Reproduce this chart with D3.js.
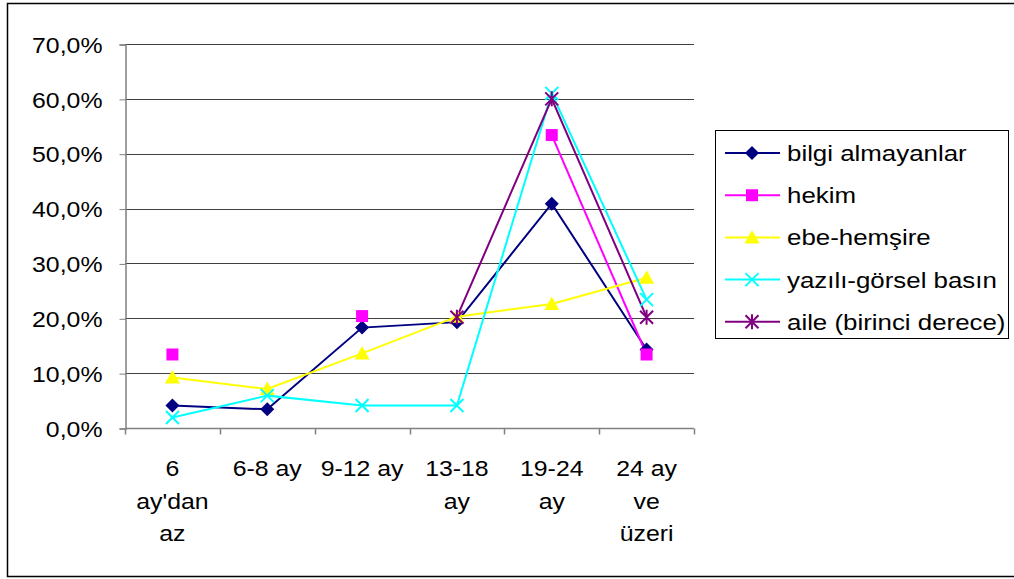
<!DOCTYPE html>
<html><head><meta charset="utf-8">
<script src="https://cdn.jsdelivr.net/npm/d3@7"></script>
<style>body{margin:0;background:#fff}svg{display:block}text{font-family:"Liberation Sans",Arial,sans-serif;fill:#000}</style>
</head><body><svg id="c" width="1014" height="579"></svg>
<script>
const categories = ["6 ay'dan az","6-8 ay","9-12 ay","13-18 ay","19-24 ay","24 ay ve üzeri"];
const categoryLines = [["6","ay'dan","az"],["6-8 ay"],["9-12 ay"],["13-18","ay"],["19-24","ay"],["24 ay","ve","üzeri"]];
const seriesNames = ["bilgi almayanlar","hekim","ebe-hemşire","yazılı-görsel basın","aile (birinci derece)"];
const bilgiAlmayanlar = [4.1,3.4,18.3,19.3,40.9,14.3];
const hekim = [13.4,null,20.4,null,53.4,13.4];
const ebeHemsire = [9.2,7.1,13.6,20.3,22.6,27.4];
const yaziliGorsel = [1.9,5.9,4.1,4.1,61.0,23.4];
const aile = [null,null,null,20.2,60.0,20.2];
const yTicks = [0,10,20,30,40,50,60,70];

const seriesValues = [bilgiAlmayanlar,hekim,ebeHemsire,yaziliGorsel,aile];
const colors = ["#000080","#FF00FF","#FFFF00","#00FFFF","#800080"];
const markers = ["diamond","square","triangle","x","star"];

const svg = d3.select("#c");
const SX = 1.13;
const L=125,R=694,T=44,B=428;
svg.append("rect").attr("x",7.5).attr("y",3.5).attr("width",1015).attr("height",573).attr("fill","#fff").attr("stroke","#000").attr("stroke-width",1.5);

const x = d3.scaleBand().domain(categories).range([L,R]).padding(0);
const y = d3.scaleLinear().domain([0,70]).range([B,T]);

// gridlines
svg.append("g").selectAll("line").data(yTicks.filter(d=>d>0)).join("line")
  .attr("x1",L).attr("x2",R).attr("y1",d=>Math.round(y(d))+0.5).attr("y2",d=>Math.round(y(d))+0.5)
  .attr("stroke","#404040").attr("stroke-width",1);

// y axis
const yAxis = d3.axisLeft(y).tickValues(yTicks).tickSize(6).tickFormat(d=>d3.format(".1f")(d).replace(".",",")+"%");
const gy = svg.append("g").attr("transform",`translate(${L+0.5},0.5)`).call(yAxis);
gy.select(".domain").attr("stroke","#808080").attr("stroke-width",1.5);
gy.selectAll(".tick line").attr("stroke","#808080");
gy.selectAll(".tick text").attr("font-size",22).attr("x",0).attr("dy","0.35em")
  .attr("transform","translate(-23,0) scale("+SX+",1)").attr("text-anchor","end").style("font-family",'"Liberation Sans",Arial,sans-serif');

// x axis
const gx = svg.append("g").attr("transform",`translate(0,${B+0.5})`);
gx.append("line").attr("x1",L).attr("x2",R).attr("stroke","#808080").attr("stroke-width",1.5);
const edges = categories.map(c=>x(c)).concat([R]);
gx.selectAll(".tk").data(edges).join("line").attr("class","tk")
  .attr("x1",d=>Math.round(d)+0.5).attr("x2",d=>Math.round(d)+0.5).attr("y1",0).attr("y2",6).attr("stroke","#808080").attr("stroke-width",1.5);
categories.forEach((c,i)=>{
  const cx = x(c)+x.bandwidth()/2;
  categoryLines[i].forEach((ln,j)=>{
    svg.append("text").attr("transform",`translate(${cx},${476+j*32.5}) scale(${SX},1)`)
      .attr("text-anchor","middle").attr("font-size",22).text(ln);
  });
});

function drawMarker(g,type,color,cx,cy){
  if(type==="diamond"){
    const r=7;
    g.append("path").attr("d",`M${cx},${cy-r}L${cx+r},${cy}L${cx},${cy+r}L${cx-r},${cy}Z`).attr("fill",color);
  } else if(type==="square"){
    const r=6;
    g.append("rect").attr("x",cx-r).attr("y",cy-r).attr("width",2*r).attr("height",2*r).attr("fill",color);
  } else if(type==="triangle"){
    const r=7.5;
    g.append("path").attr("d",`M${cx},${cy-r}L${cx+r},${cy+r*0.8}L${cx-r},${cy+r*0.8}Z`).attr("fill",color);
  } else if(type==="x"){
    const r=6.5;
    g.append("path").attr("d",`M${cx-r},${cy-r}L${cx+r},${cy+r}M${cx-r},${cy+r}L${cx+r},${cy-r}`).attr("stroke",color).attr("stroke-width",2);
  } else if(type==="star"){
    const r=6.5;
    g.append("path").attr("d",`M${cx-r},${cy-r}L${cx+r},${cy+r}M${cx-r},${cy+r}L${cx+r},${cy-r}M${cx},${cy-r-1}L${cx},${cy+r+1}`).attr("stroke",color).attr("stroke-width",2);
  }
}

const line = d3.line().defined(d=>d.v!=null).x(d=>x(d.c)+x.bandwidth()/2).y(d=>y(d.v));
seriesValues.forEach((vals,si)=>{
  const data = vals.map((v,i)=>({c:categories[i],v}));
  svg.append("path").datum(data).attr("d",line).attr("fill","none").attr("stroke",colors[si]).attr("stroke-width",2);
});
seriesValues.forEach((vals,si)=>{
  const g = svg.append("g");
  vals.forEach((v,i)=>{ if(v!=null) drawMarker(g,markers[si],colors[si],x(categories[i])+x.bandwidth()/2,y(v)); });
});

// legend
const lg = svg.append("g");
lg.append("rect").attr("x",715.5).attr("y",130.5).attr("width",293).attr("height",208).attr("fill","#fff").attr("stroke","#000").attr("stroke-width",1);
seriesNames.forEach((n,i)=>{
  const cy = 153 + i*42.2;
  lg.append("line").attr("x1",725).attr("x2",780).attr("y1",cy).attr("y2",cy).attr("stroke",colors[i]).attr("stroke-width",2);
  drawMarker(lg,markers[i],colors[i],752,cy);
  lg.append("text").attr("transform",`translate(787,${cy+8}) scale(${SX+0.02},1)`).attr("font-size",22.5).text(n);
});
</script></body></html>
